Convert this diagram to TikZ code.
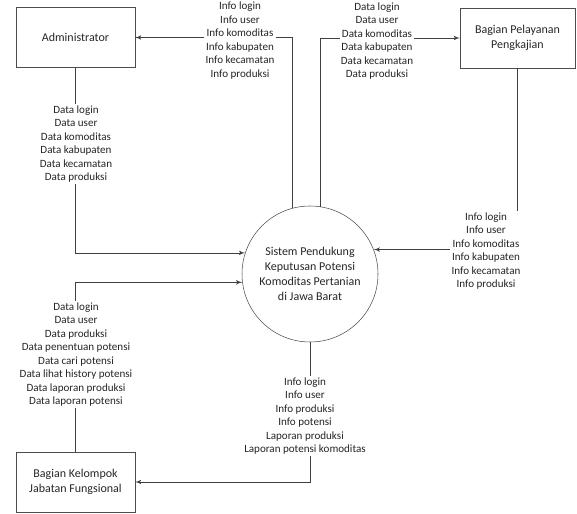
\documentclass[tikz,border=0pt]{standalone}
\usepackage{fontspec}
\setmainfont{Carlito}
\usepackage{tikz}
\usetikzlibrary{arrows}
\usetikzlibrary{positioning}
\tikzset{entity/.style = {draw = black!70, rectangle, minimum width = 89pt, minimum height = 45pt, align = center, font = \fontsize{9}{11}\selectfont},
  proses/.style = {draw = black!70, circle, minimum size = 102pt, inner sep = 0, align = center, font = \fontsize{9}{11.2}\selectfont},
  flow/.style = {draw = black!75, line width = 0.6pt, ->, >= latex'},
  lbl/.style = {fill = white, inner sep = 1pt, align = center, font = \fontsize{8.3}{10.1}\selectfont}}

\begin{document}
\begin{tikzpicture}[x = 0.75pt, y = -0.75pt, text = black!85]
      \useasboundingbox (0, 0) rectangle (577, 513);
      \node [entity] (admin) at (75.5, 37.5) {Administrator};
      \node [entity, minimum width = 86pt] (bpp) at (517.5, 38) {Bagian Pelayanan\\Pengkajian};
      \node [entity] (bkjf) at (75.5, 482) {Bagian Kelompok\\Jabatan Fungsional};
      \node [proses] (sistem) at (310, 274) {Sistem Pendukung\\Keputusan Potensi\\Komoditas Pertanian\\di Jawa Barat};
      \draw [flow] (sistem.105) |- (admin.east);
      \draw [flow] (sistem.81) |- (bpp.west);
      \draw [flow] (admin.south) |- (sistem.162);
      \draw [flow] (bkjf.north) |- (sistem.187);
      \draw [flow] (bpp.south) |- (sistem.21);
      \draw [flow] (sistem.south) |- (bkjf.east);
      \node [lbl] (infoadmin) at (240, 40.5) {Info login\\Info user\\Info komoditas\\Info kabupaten\\Info kecamatan\\Info produksi};
      \node [lbl] (databpp) at (377, 41) {Data login\\Data user\\Data komoditas\\Data kabupaten\\Data kecamatan\\Data produksi};
      \node [lbl] (dataadmin) at (76, 144) {Data login\\Data user\\Data komoditas\\Data kabupaten\\Data kecamatan\\Data produksi};
      \node [lbl] (infobpp) at (486, 251) {Info login\\Info user\\Info komoditas\\Info kabupaten\\Info kecamatan\\Info produksi};
      \node [lbl] (databkjf) at (76, 354.5) {Data login\\Data user\\Data produksi\\Data penentuan potensi\\Data cari potensi\\Data lihat history potensi\\Data laporan produksi\\Data laporan potensi};
      \node [lbl] (infobkjf) at (305, 416) {Info login\\Info user\\Info produksi\\Info potensi\\Laporan produksi\\Laporan potensi komoditas};
    \end{tikzpicture}
\end{document}
